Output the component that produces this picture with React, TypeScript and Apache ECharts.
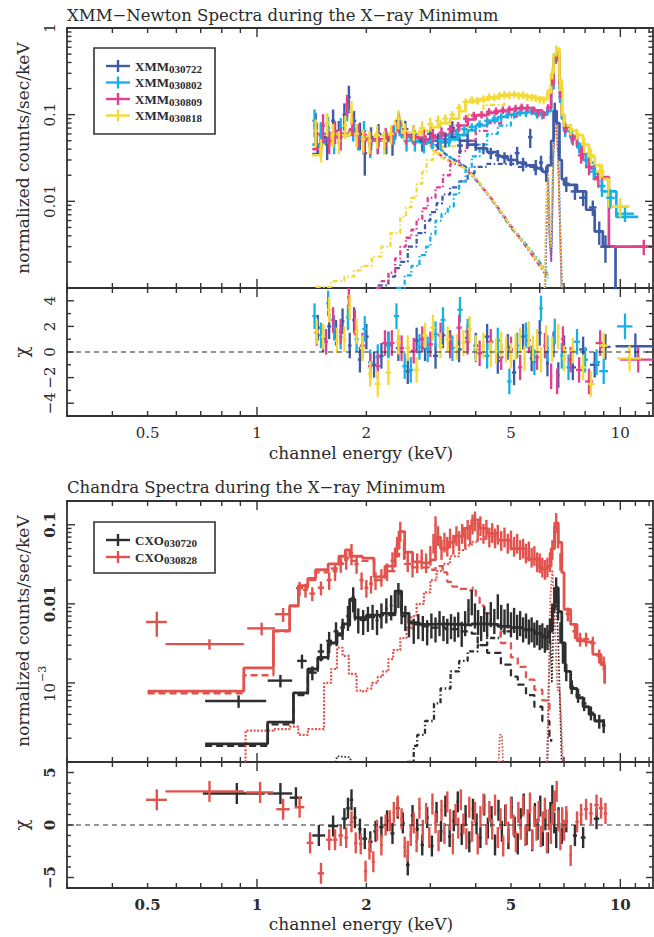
import { useEffect, useRef } from "react";
import * as echarts from "echarts";

// ---------- axis ranges ----------
const E_MIN = 0.3;
const E_MAX = 12.3;
const XMM_Y = [0.001, 1];
const CXO_Y = [0.0001, 0.2];
const XMM_CHI = [-5, 5];
const CXO_CHI = [-6, 6];

// ---------- tick values ----------
const X_MAJOR = [1, 10];
const X_MINOR = [0.3, 0.4, 0.5, 0.6, 0.7, 0.8, 0.9, 2, 3, 4, 5, 6, 7, 8, 9, 11, 12];
const X_LABELS = ["0.5", "1", "2", "5", "10"];
const X_LABEL_VALUES = [0.5, 1, 2, 5, 10];
const DECADE_STEPS = [2, 3, 4, 5, 6, 7, 8, 9];
const XMM_Y_MAJOR = [0.001, 0.01, 0.1, 1];
const CXO_Y_MAJOR = [0.0001, 0.001, 0.01, 0.1];
const XMM_Y_LABELS = ["0.01", "0.1", "1"];
const XMM_Y_LABEL_VALUES = [0.01, 0.1, 1];
const CXO_Y_LABELS = ["0.01", "0.1"];
const CXO_Y_LABEL_VALUES = [0.01, 0.1];
const XMM_CHI_MAJOR = [-4, -2, 0, 2, 4];
const XMM_CHI_MINOR = [-5, -3, -1, 1, 3, 5];
const XMM_CHI_LABELS = ["\u22124", "\u22122", "0", "2", "4"];
const CXO_CHI_MAJOR = [-5, 0, 5];
const CXO_CHI_MINOR = [-6, -4, -3, -2, -1, 1, 2, 3, 4, 6];
const CXO_CHI_LABELS = ["\u22125", "0", "5"];

// ---------- XMM-Newton spectra: [keV, counts/s/keV, half bin width keV, fractional error] ----------
const xmm030722Data = [
  [1.45, 0.075, 0.02, 0.4], [1.5, 0.058, 0.02, 0.4], [1.56, 0.046, 0.02, 0.35], [1.62, 0.085, 0.02, 0.35],
  [1.68, 0.065, 0.02, 0.3], [1.74, 0.1, 0.02, 0.35], [1.79, 0.16, 0.02, 0.35], [1.85, 0.085, 0.025, 0.3],
  [1.92, 0.06, 0.03, 0.35], [1.98, 0.036, 0.03, 0.45], [2.06, 0.055, 0.03, 0.3], [2.16, 0.06, 0.04, 0.3],
  [2.27, 0.05, 0.04, 0.3], [2.36, 0.048, 0.04, 0.3], [2.45, 0.085, 0.04, 0.25], [2.56, 0.068, 0.05, 0.25],
  [2.7, 0.06, 0.06, 0.25], [2.85, 0.05, 0.06, 0.25], [3.0, 0.06, 0.06, 0.22], [3.15, 0.05, 0.06, 0.22],
  [3.3, 0.052, 0.06, 0.2], [3.45, 0.07, 0.06, 0.2], [3.62, 0.044, 0.07, 0.2], [3.8, 0.05, 0.07, 0.18],
  [4.0, 0.045, 0.08, 0.15], [4.2, 0.041, 0.08, 0.15], [4.4, 0.036, 0.08, 0.15], [4.6, 0.034, 0.08, 0.15],
  [4.8, 0.032, 0.08, 0.15], [5.0, 0.03, 0.08, 0.15], [5.2, 0.036, 0.08, 0.18], [5.4, 0.027, 0.08, 0.18],
  [5.65, 0.055, 0.08, 0.25], [5.85, 0.025, 0.08, 0.2], [6.05, 0.028, 0.08, 0.2], [6.25, 0.021, 0.06, 0.2],
  [6.45, 0.032, 0.06, 0.2], [6.6, 0.11, 0.05, 0.25], [6.78, 0.04, 0.06, 0.2], [7.1, 0.016, 0.15, 0.2],
  [7.5, 0.013, 0.2, 0.2], [7.9, 0.011, 0.2, 0.2], [8.4, 0.0085, 0.2, 0.2], [8.75, 0.0045, 0.25, 0.3],
  [9.1, 0.003, 0.3, 0.35],
];
const xmm030802Data = [
  [1.44, 0.085, 0.02, 0.35], [1.5, 0.06, 0.02, 0.35], [1.57, 0.07, 0.02, 0.35], [1.63, 0.05, 0.02, 0.3],
  [1.7, 0.07, 0.02, 0.3], [1.77, 0.12, 0.02, 0.3], [1.84, 0.07, 0.025, 0.3], [1.9, 0.055, 0.03, 0.3],
  [1.97, 0.065, 0.03, 0.3], [2.05, 0.045, 0.03, 0.3], [2.15, 0.05, 0.04, 0.3], [2.25, 0.05, 0.04, 0.3],
  [2.38, 0.06, 0.04, 0.25], [2.47, 0.075, 0.04, 0.25], [2.58, 0.05, 0.05, 0.25], [2.72, 0.048, 0.06, 0.22],
  [2.88, 0.046, 0.06, 0.22], [3.03, 0.05, 0.06, 0.2], [3.2, 0.05, 0.06, 0.2], [3.38, 0.052, 0.06, 0.18],
  [3.55, 0.06, 0.06, 0.15], [3.72, 0.068, 0.07, 0.12], [3.9, 0.072, 0.07, 0.1], [4.1, 0.078, 0.08, 0.1],
  [4.3, 0.085, 0.08, 0.1], [4.5, 0.09, 0.08, 0.1], [4.7, 0.094, 0.08, 0.1], [4.9, 0.1, 0.08, 0.1],
  [5.1, 0.1, 0.08, 0.1], [5.3, 0.106, 0.08, 0.1], [5.5, 0.104, 0.08, 0.1], [5.7, 0.11, 0.08, 0.1],
  [5.9, 0.1, 0.08, 0.1], [6.1, 0.098, 0.08, 0.1], [6.3, 0.11, 0.06, 0.1], [6.5, 0.25, 0.05, 0.15],
  [6.65, 0.45, 0.05, 0.15], [6.82, 0.16, 0.06, 0.15], [7.05, 0.065, 0.1, 0.15], [7.35, 0.055, 0.12, 0.15],
  [7.7, 0.042, 0.15, 0.15], [8.05, 0.03, 0.15, 0.2], [8.45, 0.022, 0.2, 0.2], [8.9, 0.015, 0.2, 0.25],
  [9.4, 0.011, 0.25, 0.25], [10.3, 0.0072, 0.6, 0.2],
];
const xmm030809Data = [
  [1.46, 0.06, 0.02, 0.35], [1.52, 0.075, 0.02, 0.35], [1.58, 0.05, 0.02, 0.3], [1.64, 0.065, 0.02, 0.3],
  [1.7, 0.055, 0.02, 0.3], [1.77, 0.13, 0.02, 0.3], [1.83, 0.08, 0.025, 0.3], [1.9, 0.06, 0.03, 0.3],
  [1.97, 0.05, 0.03, 0.3], [2.05, 0.048, 0.03, 0.3], [2.15, 0.05, 0.04, 0.3], [2.26, 0.056, 0.04, 0.25],
  [2.36, 0.06, 0.04, 0.25], [2.46, 0.08, 0.04, 0.25], [2.57, 0.058, 0.05, 0.22], [2.72, 0.055, 0.06, 0.2],
  [2.88, 0.056, 0.06, 0.2], [3.05, 0.058, 0.06, 0.18], [3.22, 0.062, 0.06, 0.15], [3.4, 0.068, 0.06, 0.12],
  [3.58, 0.075, 0.06, 0.1], [3.76, 0.09, 0.07, 0.1], [3.95, 0.098, 0.07, 0.1], [4.15, 0.1, 0.08, 0.1],
  [4.35, 0.108, 0.08, 0.1], [4.55, 0.11, 0.08, 0.1], [4.75, 0.113, 0.08, 0.1], [4.95, 0.115, 0.08, 0.1],
  [5.15, 0.118, 0.08, 0.1], [5.35, 0.122, 0.08, 0.1], [5.55, 0.12, 0.08, 0.1], [5.75, 0.112, 0.08, 0.1],
  [5.95, 0.105, 0.08, 0.1], [6.15, 0.1, 0.08, 0.1], [6.32, 0.12, 0.06, 0.1], [6.5, 0.26, 0.05, 0.15],
  [6.66, 0.47, 0.05, 0.15], [6.82, 0.18, 0.06, 0.15], [7.05, 0.07, 0.1, 0.15], [7.4, 0.052, 0.12, 0.15],
  [7.8, 0.034, 0.15, 0.2], [8.2, 0.025, 0.2, 0.2], [8.7, 0.018, 0.25, 0.2], [11.6, 0.003, 0.9, 0.2],
];
const xmm030818Data = [
  [1.45, 0.065, 0.02, 0.35], [1.5, 0.04, 0.02, 0.3], [1.56, 0.08, 0.02, 0.3], [1.62, 0.06, 0.02, 0.3],
  [1.68, 0.05, 0.02, 0.3], [1.75, 0.075, 0.02, 0.3], [1.82, 0.11, 0.025, 0.3], [1.88, 0.06, 0.03, 0.3],
  [1.96, 0.052, 0.03, 0.3], [2.04, 0.05, 0.03, 0.3], [2.14, 0.058, 0.04, 0.3], [2.24, 0.05, 0.04, 0.3],
  [2.34, 0.06, 0.04, 0.25], [2.45, 0.09, 0.04, 0.25], [2.55, 0.065, 0.05, 0.22], [2.7, 0.062, 0.06, 0.2],
  [2.85, 0.07, 0.06, 0.2], [3.0, 0.078, 0.06, 0.18], [3.15, 0.085, 0.06, 0.15], [3.3, 0.09, 0.06, 0.12],
  [3.45, 0.1, 0.06, 0.1], [3.6, 0.12, 0.06, 0.1], [3.75, 0.14, 0.07, 0.1], [3.9, 0.148, 0.07, 0.1],
  [4.05, 0.145, 0.08, 0.1], [4.2, 0.152, 0.08, 0.1], [4.35, 0.16, 0.08, 0.1], [4.5, 0.158, 0.08, 0.1],
  [4.65, 0.165, 0.08, 0.1], [4.8, 0.17, 0.08, 0.1], [4.95, 0.168, 0.08, 0.1], [5.1, 0.172, 0.08, 0.1],
  [5.25, 0.165, 0.08, 0.1], [5.4, 0.168, 0.08, 0.1], [5.55, 0.16, 0.08, 0.1], [5.7, 0.158, 0.08, 0.1],
  [5.85, 0.155, 0.08, 0.1], [6.0, 0.15, 0.08, 0.1], [6.15, 0.148, 0.06, 0.1], [6.32, 0.18, 0.05, 0.1],
  [6.5, 0.3, 0.05, 0.15], [6.66, 0.55, 0.05, 0.15], [6.82, 0.22, 0.06, 0.15], [7.0, 0.085, 0.08, 0.15],
  [7.3, 0.068, 0.12, 0.15], [7.6, 0.06, 0.12, 0.15], [7.95, 0.045, 0.15, 0.2], [8.3, 0.034, 0.2, 0.2],
  [8.8, 0.022, 0.25, 0.2], [10.0, 0.0087, 0.55, 0.25],
];

// folded models (histogram, left bin edges) [keV, counts/s/keV]
const xmm030722Model = [
  [1.42, 0.035], [1.47, 0.045], [1.53, 0.055], [1.6, 0.06], [1.7, 0.058], [1.8, 0.065], [1.88, 0.056],
  [2.0, 0.052], [2.15, 0.05], [2.3, 0.055], [2.4, 0.075], [2.5, 0.06], [2.65, 0.055], [2.8, 0.052],
  [3.0, 0.055], [3.2, 0.058], [3.4, 0.055], [3.6, 0.05], [3.8, 0.045], [4.0, 0.041], [4.3, 0.037],
  [4.6, 0.033], [4.9, 0.03], [5.2, 0.028], [5.5, 0.026], [5.8, 0.024], [6.1, 0.022], [6.3, 0.026],
  [6.45, 0.05], [6.55, 0.11], [6.68, 0.08], [6.8, 0.03], [6.9, 0.018], [7.0, 0.0155], [7.6, 0.013],
  [8.05, 0.008], [8.5, 0.0045], [8.95, 0.003], [9.7, 0.0005],
];
const xmm030802Model = [
  [1.42, 0.045], [1.5, 0.06], [1.6, 0.055], [1.7, 0.06], [1.8, 0.062], [1.9, 0.055], [2.0, 0.05],
  [2.15, 0.05], [2.3, 0.052], [2.4, 0.07], [2.5, 0.055], [2.65, 0.05], [2.8, 0.048], [3.0, 0.05],
  [3.2, 0.048], [3.4, 0.052], [3.6, 0.058], [3.8, 0.066], [4.0, 0.075], [4.3, 0.085], [4.6, 0.094],
  [4.9, 0.1], [5.2, 0.105], [5.5, 0.107], [5.8, 0.103], [6.1, 0.1], [6.3, 0.11], [6.45, 0.2],
  [6.55, 0.42], [6.68, 0.48], [6.8, 0.2], [6.9, 0.09], [7.0, 0.065], [7.3, 0.055], [7.6, 0.045],
  [7.9, 0.035], [8.2, 0.028], [8.5, 0.021], [8.9, 0.013], [9.75, 0.0066], [11.2, 0.0066],
];
const xmm030809Model = [
  [1.42, 0.04], [1.5, 0.05], [1.6, 0.055], [1.7, 0.06], [1.8, 0.068], [1.9, 0.058], [2.0, 0.052],
  [2.15, 0.052], [2.3, 0.055], [2.4, 0.075], [2.5, 0.06], [2.65, 0.055], [2.8, 0.052], [3.0, 0.055],
  [3.2, 0.058], [3.4, 0.065], [3.6, 0.075], [3.8, 0.088], [4.0, 0.098], [4.3, 0.105], [4.6, 0.11],
  [4.9, 0.115], [5.2, 0.118], [5.5, 0.12], [5.8, 0.112], [6.1, 0.105], [6.3, 0.12], [6.45, 0.22],
  [6.55, 0.45], [6.68, 0.5], [6.8, 0.22], [6.9, 0.1], [7.0, 0.07], [7.3, 0.056], [7.6, 0.043],
  [7.9, 0.03], [8.2, 0.024], [8.5, 0.019], [9.3, 0.003], [12.3, 0.003],
];
const xmm030818Model = [
  [1.42, 0.034], [1.5, 0.045], [1.6, 0.06], [1.7, 0.058], [1.8, 0.062], [1.9, 0.056], [2.0, 0.056],
  [2.15, 0.058], [2.3, 0.06], [2.4, 0.085], [2.5, 0.062], [2.65, 0.06], [2.8, 0.065], [3.0, 0.072],
  [3.2, 0.08], [3.4, 0.09], [3.6, 0.11], [3.75, 0.14], [4.0, 0.148], [4.3, 0.155], [4.6, 0.165],
  [4.9, 0.17], [5.2, 0.168], [5.5, 0.162], [5.8, 0.155], [6.1, 0.15], [6.3, 0.18], [6.45, 0.3],
  [6.55, 0.5], [6.68, 0.58], [6.8, 0.25], [6.9, 0.1], [7.0, 0.075], [7.3, 0.065], [7.6, 0.058],
  [7.9, 0.045], [8.2, 0.033], [8.5, 0.026], [8.9, 0.018], [9.3, 0.0087], [10.6, 0.0087],
];

// hard (absorbed) component
const xmm030722Hard = [
  [2.15, 0.00107], [2.3, 0.00135], [2.4, 0.0017], [2.48, 0.002], [2.6, 0.003], [2.75, 0.0043],
  [2.9, 0.006], [3.0, 0.0075], [3.12, 0.0095], [3.24, 0.012], [3.4, 0.0145], [3.6, 0.017],
  [3.8, 0.021], [3.97, 0.025], [4.3, 0.027], [4.7, 0.027], [5.2, 0.025], [5.8, 0.022],
];
const xmm030802Hard = [
  [2.42, 0.001], [2.55, 0.0014], [2.66, 0.0018], [2.8, 0.0024], [2.92, 0.003], [3.0, 0.0042],
  [3.1, 0.006], [3.22, 0.0072], [3.35, 0.0087], [3.48, 0.012], [3.6, 0.017], [3.75, 0.024],
  [3.9, 0.033], [4.1, 0.045], [4.3, 0.06], [4.6, 0.075], [5.0, 0.09],
];
const xmm030809Hard = [
  [2.12, 0.001], [2.2, 0.0012], [2.3, 0.0015], [2.4, 0.0022], [2.48, 0.003], [2.57, 0.0038],
  [2.66, 0.0047], [2.75, 0.0062], [2.85, 0.0083], [2.95, 0.011], [3.1, 0.0145], [3.25, 0.02],
  [3.4, 0.027], [3.6, 0.038], [3.78, 0.05], [4.0, 0.065], [4.3, 0.08], [4.7, 0.095], [5.2, 0.105],
];
const xmm030818Hard = [
  [1.45, 0.00103], [1.6, 0.0012], [1.74, 0.00135], [1.85, 0.0016], [1.94, 0.0018], [2.07, 0.0023],
  [2.2, 0.003], [2.33, 0.0043], [2.48, 0.0066], [2.57, 0.0085], [2.66, 0.011], [2.75, 0.016],
  [2.85, 0.022], [2.93, 0.03], [3.05, 0.036], [3.24, 0.043], [3.5, 0.06], [3.8, 0.1], [4.2, 0.13],
  [4.8, 0.15],
];

// soft (thermal) component above 3 keV
const xmm030722Soft = [
  [2.9, 0.052], [3.1, 0.045], [3.3, 0.035], [3.5, 0.03], [3.75, 0.025], [4.0, 0.0186], [4.5, 0.0095],
  [5.0, 0.005], [5.5, 0.0031], [6.0, 0.0019], [6.33, 0.0014],
];
const xmm030802Soft = [
  [3.0, 0.048], [3.2, 0.04], [3.4, 0.032], [3.6, 0.028], [3.9, 0.02], [4.4, 0.011], [5.0, 0.0051],
  [5.5, 0.0032], [6.0, 0.002], [6.33, 0.0014],
];
const xmm030809Soft = [
  [2.8, 0.05], [3.0, 0.045], [3.2, 0.034], [3.4, 0.029], [3.7, 0.025], [4.0, 0.018], [4.5, 0.0098],
  [5.0, 0.0052], [5.5, 0.003], [6.0, 0.0018], [6.33, 0.0013],
];
const xmm030818Soft = [
  [2.7, 0.055], [2.9, 0.05], [3.1, 0.036], [3.3, 0.03], [3.6, 0.027], [4.0, 0.0185], [4.5, 0.0097],
  [5.0, 0.0052], [5.5, 0.0031], [6.0, 0.0019], [6.33, 0.0014],
];

// iron line components
const xmm030722Fe = [
  [6.2, 0.001], [6.27, 0.006], [6.32, 0.018], [6.38, 0.004], [6.46, 0.002], [6.53, 0.03], [6.6, 0.09],
  [6.66, 0.1], [6.73, 0.05], [6.8, 0.01], [6.88, 0.001],
];
const xmm030802Fe = [
  [6.22, 0.001], [6.28, 0.007], [6.34, 0.02], [6.4, 0.005], [6.48, 0.003], [6.55, 0.04], [6.62, 0.08],
  [6.68, 0.085], [6.75, 0.035], [6.83, 0.006], [6.92, 0.001],
];
const xmm030809Fe = [
  [6.2, 0.001], [6.26, 0.008], [6.31, 0.022], [6.37, 0.005], [6.45, 0.002], [6.54, 0.035], [6.61, 0.075],
  [6.67, 0.08], [6.74, 0.03], [6.82, 0.005], [6.9, 0.001],
];
const xmm030818Fe = [
  [6.18, 0.001], [6.25, 0.01], [6.3, 0.025], [6.36, 0.006], [6.44, 0.003], [6.52, 0.04], [6.6, 0.085],
  [6.66, 0.09], [6.72, 0.04], [6.8, 0.008], [6.9, 0.001],
];

// residuals [keV, chi, half bin width keV]
const xmm030722Chi = [
  [1.47, 1.9, 0.02], [1.52, 1.0, 0.02], [1.58, 2.0, 0.02], [1.65, 1.5, 0.02], [1.72, 2.4, 0.02],
  [1.8, 0.5, 0.02], [1.85, 2.5, 0.02], [1.92, -0.6, 0.025], [2.0, 1.2, 0.03], [2.1, -1.0, 0.03],
  [2.2, -0.3, 0.03], [2.3, 0.6, 0.04], [2.45, 0.3, 0.04], [2.6, -1.5, 0.04], [2.75, 0.9, 0.05],
  [2.9, 0.3, 0.05], [3.1, -0.3, 0.05], [3.25, 1.3, 0.05], [3.4, 0.7, 0.05], [3.6, 0.2, 0.06],
  [3.8, 1.1, 0.06], [4.0, 0.5, 0.06], [4.3, 1.2, 0.07], [4.6, -0.7, 0.07], [4.9, 0.4, 0.07],
  [5.1, -1.6, 0.07], [5.4, 1.2, 0.07], [5.7, -0.5, 0.07], [6.0, 1.5, 0.07], [6.3, -0.9, 0.06],
  [6.55, 0.6, 0.05], [6.75, -1.8, 0.05], [7.0, 0.3, 0.1], [7.4, -1.2, 0.15], [7.9, 0.2, 0.2],
  [8.5, -1.0, 0.25], [9.1, 0.4, 0.3], [11.0, 0.45, 1.3],
];
const xmm030802Chi = [
  [1.44, 2.8, 0.02], [1.5, 1.3, 0.02], [1.57, 3.8, 0.02], [1.63, 1.9, 0.02], [1.7, 1.2, 0.02],
  [1.78, 2.7, 0.02], [1.88, 1.0, 0.025], [1.98, 1.8, 0.03], [2.05, -0.8, 0.03], [2.15, -0.4, 0.03],
  [2.3, 0.5, 0.04], [2.42, 2.8, 0.04], [2.55, -1.1, 0.04], [2.65, -1.4, 0.04], [2.8, 0.4, 0.05],
  [2.95, 0.2, 0.05], [3.1, 1.4, 0.05], [3.25, 2.5, 0.05], [3.45, 0.3, 0.05], [3.62, 3.3, 0.06],
  [3.8, 1.6, 0.06], [4.0, 0.2, 0.06], [4.3, -0.3, 0.07], [4.6, 0.9, 0.07], [4.95, -2.3, 0.07],
  [5.2, 0.5, 0.07], [5.5, 1.3, 0.07], [5.8, -0.8, 0.07], [6.05, 3.4, 0.07], [6.3, 0.3, 0.06],
  [6.6, 1.6, 0.05], [6.9, -0.3, 0.06], [7.2, -1.2, 0.1], [7.6, 0.8, 0.15], [8.0, -0.6, 0.15],
  [8.6, -0.8, 0.2], [9.0, -1.5, 0.25], [10.3, 2.0, 0.5],
];
const xmm030809Chi = [
  [1.46, 1.5, 0.02], [1.55, 0.8, 0.02], [1.62, 2.5, 0.02], [1.7, 1.6, 0.02], [1.79, 4.3, 0.02],
  [1.86, 2.3, 0.025], [1.95, 0.5, 0.03], [2.05, -1.1, 0.03], [2.15, -1.1, 0.03], [2.25, 0.7, 0.04],
  [2.35, 0.7, 0.04], [2.5, 0.3, 0.04], [2.7, 0.1, 0.05], [2.85, 1.0, 0.05], [3.0, 0.6, 0.05],
  [3.2, 1.3, 0.05], [3.4, 0.5, 0.05], [3.6, 1.9, 0.06], [3.8, 0.8, 0.06], [4.1, -0.1, 0.06],
  [4.4, 0.8, 0.07], [4.7, -0.4, 0.07], [5.0, 0.2, 0.07], [5.3, -1.2, 0.07], [5.6, 0.9, 0.07],
  [5.9, -0.4, 0.07], [6.2, 0.5, 0.06], [6.45, -1.9, 0.05], [6.7, -2.3, 0.05], [6.95, 1.0, 0.08],
  [7.3, -0.6, 0.12], [7.7, -1.4, 0.15], [8.2, -2.3, 0.2], [8.8, 0.7, 0.25], [11.2, -0.6, 1.2],
];
const xmm030818Chi = [
  [1.46, 1.6, 0.02], [1.52, 1.2, 0.02], [1.58, 3.3, 0.02], [1.66, 0.9, 0.02], [1.74, 1.0, 0.02],
  [1.8, 3.5, 0.02], [1.88, 1.6, 0.025], [1.95, 0.3, 0.03], [2.05, -1.7, 0.03], [2.15, -2.5, 0.04],
  [2.3, -1.6, 0.04], [2.45, 0.8, 0.04], [2.6, 0.3, 0.04], [2.75, -1.4, 0.05], [2.9, 1.3, 0.05],
  [3.05, 1.9, 0.05], [3.2, 0.5, 0.05], [3.35, 1.0, 0.05], [3.55, 0.4, 0.05], [3.7, 0.7, 0.05],
  [3.85, 1.8, 0.05], [4.0, 0.3, 0.05], [4.2, 0.5, 0.05], [4.4, -0.2, 0.05], [4.55, 0.1, 0.05],
  [4.7, 0.6, 0.05], [4.85, 0.2, 0.05], [5.0, -0.3, 0.05], [5.15, 0.4, 0.05], [5.3, 0.9, 0.05],
  [5.45, -0.5, 0.05], [5.6, 1.4, 0.05], [5.75, 0.3, 0.05], [5.9, 0.8, 0.05], [6.05, -0.6, 0.05],
  [6.25, 1.1, 0.05], [6.5, 0.2, 0.05], [6.75, 1.2, 0.05], [7.0, -0.5, 0.08], [7.4, 0.1, 0.12],
  [7.9, -1.2, 0.15], [8.3, -2.5, 0.2], [9.0, 0.5, 0.25], [10.6, -0.5, 0.8],
];

// ---------- Chandra spectra ----------
const cxo030720Data = [
  [0.89, 0.00059, 0.17, 0.18], [1.16, 0.00107, 0.09, 0.18], [1.33, 0.0019, 0.04, 0.2], [1.42, 0.00135, 0.04, 0.2],
  [1.5, 0.0025, 0.03, 0.25], [1.58, 0.0034, 0.03, 0.3], [1.65, 0.0045, 0.025, 0.3], [1.72, 0.005, 0.025, 0.3],
  [1.78, 0.007, 0.02, 0.35], [1.84, 0.012, 0.02, 0.35], [1.9, 0.0065, 0.02, 0.35], [1.96, 0.0062, 0.02, 0.35],
  [2.02, 0.0068, 0.02, 0.35], [2.08, 0.0072, 0.02, 0.35], [2.14, 0.0062, 0.02, 0.35], [2.2, 0.0075, 0.02, 0.35],
  [2.27, 0.0087, 0.02, 0.35], [2.34, 0.0095, 0.02, 0.35], [2.4, 0.011, 0.02, 0.35], [2.45, 0.0136, 0.02, 0.35],
  [2.5, 0.0085, 0.02, 0.35], [2.56, 0.007, 0.02, 0.35], [2.62, 0.0058, 0.02, 0.35], [2.7, 0.0048, 0.02, 0.35],
  [2.78, 0.0055, 0.02, 0.35], [2.86, 0.0052, 0.02, 0.35], [2.94, 0.0046, 0.02, 0.35], [3.02, 0.0056, 0.02, 0.35],
  [3.1, 0.005, 0.02, 0.35], [3.18, 0.006, 0.02, 0.35], [3.26, 0.0052, 0.02, 0.35], [3.34, 0.0048, 0.02, 0.35],
  [3.42, 0.0055, 0.02, 0.35], [3.5, 0.0051, 0.02, 0.35], [3.58, 0.0058, 0.02, 0.35], [3.66, 0.0044, 0.02, 0.35],
  [3.74, 0.006, 0.02, 0.35], [3.82, 0.0085, 0.02, 0.35], [3.9, 0.011, 0.02, 0.35], [3.98, 0.0075, 0.02, 0.35],
  [4.06, 0.0062, 0.02, 0.35], [4.14, 0.0052, 0.02, 0.35], [4.22, 0.0068, 0.02, 0.35], [4.3, 0.0058, 0.02, 0.35],
  [4.4, 0.0078, 0.02, 0.35], [4.5, 0.0064, 0.02, 0.35], [4.6, 0.0098, 0.02, 0.35], [4.7, 0.0072, 0.02, 0.35],
  [4.8, 0.0063, 0.02, 0.35], [4.9, 0.0075, 0.02, 0.35], [5.0, 0.0058, 0.02, 0.35], [5.1, 0.0066, 0.02, 0.35],
  [5.2, 0.0054, 0.02, 0.35], [5.3, 0.006, 0.02, 0.35], [5.4, 0.005, 0.02, 0.35], [5.5, 0.0056, 0.02, 0.35],
  [5.6, 0.0047, 0.02, 0.35], [5.7, 0.005, 0.02, 0.35], [5.8, 0.0043, 0.02, 0.35], [5.9, 0.0046, 0.02, 0.35],
  [6.0, 0.004, 0.02, 0.35], [6.1, 0.0042, 0.02, 0.35], [6.2, 0.0037, 0.02, 0.35], [6.3, 0.004, 0.02, 0.35],
  [6.4, 0.0048, 0.02, 0.35], [6.5, 0.0075, 0.02, 0.35], [6.58, 0.012, 0.02, 0.35], [6.66, 0.016, 0.02, 0.35],
  [6.74, 0.0095, 0.02, 0.35], [6.84, 0.0045, 0.03, 0.3], [6.95, 0.0025, 0.03, 0.3], [7.1, 0.0014, 0.05, 0.25],
  [7.35, 0.0009, 0.1, 0.2], [7.65, 0.0007, 0.12, 0.2], [7.95, 0.00055, 0.12, 0.2], [8.3, 0.00042, 0.15, 0.2],
  [8.75, 0.00033, 0.15, 0.2], [9.0, 0.00029, 0.1, 0.2],
];
const cxo030828Data = [
  [0.53, 0.0059, 0.035, 0.35], [0.74, 0.0031, 0.18, 0.15], [1.03, 0.0049, 0.09, 0.18], [1.18, 0.0074, 0.06, 0.2],
  [1.31, 0.0158, 0.03, 0.2], [1.36, 0.015, 0.02, 0.2], [1.42, 0.0135, 0.025, 0.2], [1.5, 0.016, 0.03, 0.2],
  [1.58, 0.02, 0.025, 0.25], [1.64, 0.026, 0.025, 0.25], [1.7, 0.033, 0.025, 0.25], [1.76, 0.036, 0.02, 0.25],
  [1.82, 0.044, 0.02, 0.3], [1.88, 0.032, 0.025, 0.25], [1.94, 0.02, 0.025, 0.25], [2.0, 0.016, 0.025, 0.25],
  [2.06, 0.018, 0.025, 0.25], [2.12, 0.02, 0.025, 0.25], [2.2, 0.022, 0.03, 0.25], [2.28, 0.026, 0.03, 0.25],
  [2.36, 0.035, 0.03, 0.28], [2.43, 0.055, 0.02, 0.28], [2.48, 0.085, 0.02, 0.28], [2.54, 0.05, 0.02, 0.28],
  [2.6, 0.035, 0.02, 0.28], [2.68, 0.03, 0.02, 0.28], [2.76, 0.034, 0.02, 0.28], [2.84, 0.038, 0.02, 0.28],
  [2.92, 0.034, 0.02, 0.28], [3.0, 0.042, 0.02, 0.28], [3.06, 0.06, 0.02, 0.28], [3.1, 0.1, 0.02, 0.28],
  [3.15, 0.075, 0.02, 0.28], [3.22, 0.05, 0.02, 0.28], [3.28, 0.062, 0.02, 0.28], [3.34, 0.055, 0.02, 0.28],
  [3.4, 0.07, 0.02, 0.28], [3.47, 0.058, 0.02, 0.28], [3.54, 0.075, 0.02, 0.28], [3.6, 0.065, 0.02, 0.28],
  [3.67, 0.08, 0.02, 0.28], [3.74, 0.07, 0.02, 0.28], [3.8, 0.09, 0.02, 0.28], [3.86, 0.078, 0.02, 0.28],
  [3.92, 0.105, 0.02, 0.28], [3.98, 0.115, 0.02, 0.28], [4.05, 0.085, 0.02, 0.28], [4.12, 0.1, 0.02, 0.28],
  [4.2, 0.08, 0.02, 0.28], [4.28, 0.09, 0.02, 0.28], [4.36, 0.072, 0.02, 0.28], [4.44, 0.082, 0.02, 0.28],
  [4.52, 0.07, 0.02, 0.28], [4.6, 0.078, 0.02, 0.28], [4.7, 0.065, 0.02, 0.28], [4.8, 0.072, 0.02, 0.28],
  [4.9, 0.06, 0.02, 0.28], [5.0, 0.066, 0.02, 0.28], [5.1, 0.055, 0.02, 0.28], [5.2, 0.06, 0.02, 0.28],
  [5.3, 0.05, 0.02, 0.28], [5.4, 0.052, 0.02, 0.28], [5.5, 0.045, 0.02, 0.28], [5.6, 0.048, 0.02, 0.28],
  [5.7, 0.04, 0.02, 0.28], [5.8, 0.042, 0.02, 0.28], [5.9, 0.035, 0.02, 0.28], [6.0, 0.034, 0.02, 0.28],
  [6.1, 0.03, 0.02, 0.28], [6.2, 0.028, 0.02, 0.28], [6.3, 0.03, 0.02, 0.28], [6.4, 0.035, 0.02, 0.28],
  [6.5, 0.05, 0.02, 0.28], [6.58, 0.075, 0.02, 0.28], [6.66, 0.11, 0.02, 0.28], [6.74, 0.07, 0.02, 0.28],
  [6.84, 0.035, 0.03, 0.25], [7.17, 0.0075, 0.1, 0.2], [7.5, 0.0045, 0.12, 0.2], [7.75, 0.0036, 0.12, 0.2],
  [8.05, 0.0036, 0.15, 0.2], [8.4, 0.0032, 0.15, 0.2], [8.75, 0.0022, 0.15, 0.2], [9.0, 0.0018, 0.1, 0.2],
];
const cxo030720Model = [
  [0.72, 0.00017], [1.07, 0.00032], [1.26, 0.00075], [1.38, 0.0015], [1.47, 0.0021], [1.57, 0.0032],
  [1.66, 0.0042], [1.72, 0.0056], [1.8, 0.0115], [1.86, 0.0067], [2.0, 0.0072], [2.2, 0.0076],
  [2.4, 0.0145], [2.5, 0.0076], [2.62, 0.0058], [2.8, 0.0055], [3.0, 0.0056], [3.3, 0.0055],
  [3.6, 0.0054], [3.9, 0.0056], [4.2, 0.0055], [4.6, 0.0052], [5.0, 0.005], [5.4, 0.0047],
  [5.8, 0.0042], [6.1, 0.0038], [6.35, 0.0045], [6.5, 0.009], [6.62, 0.016], [6.75, 0.008],
  [6.9, 0.0032], [7.05, 0.0014], [7.3, 0.00085], [7.6, 0.00065], [7.9, 0.0005], [8.2, 0.0004],
  [8.5, 0.00033], [9.0, 0.00028], [9.05, 0.00028],
];
const cxo030828Model = [
  [0.5, 0.00079], [0.92, 0.00155], [1.11, 0.0046], [1.23, 0.0095], [1.3, 0.017], [1.38, 0.021],
  [1.45, 0.027], [1.57, 0.032], [1.68, 0.04], [1.75, 0.048], [1.8, 0.04], [1.95, 0.038], [2.1, 0.022],
  [2.25, 0.03], [2.4, 0.05], [2.46, 0.082], [2.55, 0.045], [2.68, 0.034], [2.85, 0.033], [3.0, 0.036],
  [3.1, 0.07], [3.2, 0.05], [3.35, 0.06], [3.5, 0.072], [3.7, 0.09], [3.9, 0.115], [4.1, 0.09],
  [4.3, 0.078], [4.6, 0.064], [5.0, 0.05], [5.5, 0.037], [6.0, 0.028], [6.3, 0.03], [6.45, 0.05],
  [6.6, 0.106], [6.75, 0.06], [6.9, 0.025], [7.0, 0.0085], [7.3, 0.0055], [7.6, 0.0034], [8.0, 0.0033],
  [8.4, 0.0023], [8.85, 0.0017], [9.05, 0.001], [9.1, 0.001],
];
const cxo030720Soft = [
  [0.72, 0.00016], [1.07, 0.0003], [1.26, 0.0007], [1.38, 0.0014], [1.47, 0.002], [1.57, 0.003],
  [1.66, 0.004], [1.72, 0.0053], [1.8, 0.011], [1.86, 0.0063], [2.0, 0.0068], [2.2, 0.0072],
  [2.4, 0.0135], [2.5, 0.007], [2.62, 0.0055], [2.8, 0.0052], [3.0, 0.005], [3.3, 0.0048],
  [3.6, 0.0045], [3.9, 0.0042], [4.05, 0.003], [4.3, 0.0024], [4.69, 0.0017], [5.0, 0.0012],
  [5.22, 0.00095], [5.5, 0.0007], [5.8, 0.0005], [6.1, 0.00033], [6.38, 0.0002], [6.45, 0.00018],
];
const cxo030720Hard = [
  [2.59, 0.0001], [2.7, 0.00016], [2.76, 0.00022], [2.9, 0.00033], [3.07, 0.00055], [3.2, 0.00085],
  [3.41, 0.0014], [3.6, 0.0019], [3.8, 0.0025], [4.05, 0.003], [4.3, 0.0037], [4.69, 0.0045],
  [5.1, 0.005], [5.5, 0.0048],
];
const cxo030828Soft = [
  [0.5, 0.00074], [0.92, 0.00125], [1.11, 0.0045], [1.23, 0.0093], [1.3, 0.016], [1.38, 0.02],
  [1.45, 0.025], [1.57, 0.028], [1.68, 0.032], [1.75, 0.038], [1.8, 0.035], [1.95, 0.035], [2.1, 0.02],
  [2.25, 0.026], [2.4, 0.04], [2.46, 0.06], [2.55, 0.032], [2.68, 0.029], [2.85, 0.029], [3.0, 0.027],
  [3.1, 0.03], [3.24, 0.025], [3.34, 0.019], [3.45, 0.0165], [3.6, 0.0155], [3.8, 0.0148], [3.92, 0.016],
  [4.0, 0.012], [4.1, 0.0095], [4.22, 0.0076], [4.4, 0.0055], [4.69, 0.0032], [5.0, 0.0021],
  [5.22, 0.0016], [5.5, 0.0011], [5.8, 0.00082], [6.1, 0.0006], [6.38, 0.0004],
];
const cxo030828Hard = [
  [0.93, 0.00009], [0.93, 0.00025], [1.11, 0.00026], [1.23, 0.00028], [1.3, 0.00022], [1.38, 0.00026],
  [1.52, 0.00026], [1.53, 0.001], [1.6, 0.0015], [1.66, 0.0028], [1.72, 0.0022], [1.79, 0.0013],
  [1.88, 0.0008], [1.94, 0.00078], [2.0, 0.00085], [2.07, 0.001], [2.15, 0.0012], [2.22, 0.0014],
  [2.3, 0.002], [2.37, 0.0026], [2.48, 0.0037], [2.58, 0.005], [2.66, 0.007], [2.75, 0.01],
  [2.88, 0.014], [3.0, 0.02], [3.12, 0.026], [3.25, 0.032], [3.4, 0.04], [3.6, 0.048], [3.75, 0.055],
  [3.9, 0.061], [4.05, 0.066], [4.25, 0.071], [4.5, 0.068],
];
const cxo030720Fe = [
  [6.3, 0.00009], [6.36, 0.0012], [6.42, 0.0035], [6.48, 0.001], [6.55, 0.006], [6.62, 0.012],
  [6.68, 0.01], [6.75, 0.003], [6.82, 0.0006], [6.9, 0.00009],
];
const cxo030720Bump = [[1.64, 0.00009], [1.66, 0.000118], [1.8, 0.000115], [1.83, 0.00009]];
const cxo030828Fe = [
  [6.28, 0.00009], [6.35, 0.001], [6.42, 0.012], [6.5, 0.027], [6.58, 0.01], [6.66, 0.002],
  [6.72, 0.0008], [6.8, 0.0009], [6.88, 0.0003], [6.95, 0.00009],
];
const cxo030828Bump = [[4.62, 0.00009], [4.66, 0.00022], [4.72, 0.00022], [4.76, 0.00009]];

const cxo030720Chi = [
  [0.88, 3.0, 0.17], [1.16, 3.0, 0.09], [1.28, 2.6, 0.05], [1.48, -1.0, 0.06], [1.62, -0.1, 0.05],
  [1.74, 0.6, 0.03], [1.78, 1.6, 0.02], [1.82, 2.4, 0.02], [1.86, 0.7, 0.02], [1.92, -0.4, 0.02],
  [1.98, -1.3, 0.03], [2.05, -1.6, 0.03], [2.12, -0.6, 0.03], [2.2, -0.2, 0.03], [2.28, 0.4, 0.03],
  [2.36, -0.8, 0.03], [2.44, 1.6, 0.03], [2.52, 0.2, 0.03], [2.6, -3.8, 0.03], [2.68, 0.9, 0.03],
  [2.76, -0.4, 0.03], [2.85, -1.9, 0.03], [2.94, 0.7, 0.03], [3.03, -2.0, 0.03], [3.12, 1.2, 0.03],
  [3.21, -0.6, 0.03], [3.3, 1.8, 0.03], [3.39, -1.1, 0.03], [3.48, 0.4, 0.03], [3.57, 2.2, 0.03],
  [3.66, -0.9, 0.03], [3.75, 0.9, 0.03], [3.84, -1.6, 0.03], [3.93, 1.5, 0.03], [4.02, 0.1, 0.03],
  [4.12, -1.2, 0.03], [4.22, 1.9, 0.03], [4.32, -0.3, 0.03], [4.42, 0.8, 0.03], [4.52, -1.9, 0.03],
  [4.62, 1.4, 0.03], [4.72, -0.6, 0.03], [4.82, 0.9, 0.03], [4.92, -1.3, 0.03], [5.02, 1.7, 0.03],
  [5.12, -0.2, 0.03], [5.22, -1.8, 0.03], [5.32, 0.6, 0.03], [5.42, 2.0, 0.03], [5.52, -0.9, 0.03],
  [5.62, 0.4, 0.03], [5.72, -1.5, 0.03], [5.82, 1.1, 0.03], [5.92, -0.4, 0.03], [6.02, 1.8, 0.03],
  [6.12, -1.0, 0.03], [6.22, 0.5, 0.03], [6.32, -1.7, 0.03], [6.42, 1.2, 0.03], [6.5, 2.8, 0.03],
  [6.58, 0.2, 0.03], [6.66, -1.2, 0.03], [6.76, 0.7, 0.04], [6.9, -0.8, 0.05], [7.1, 0.3, 0.06],
  [7.5, -1.0, 0.1], [7.9, -1.2, 0.12], [8.6, 0.6, 0.15],
];
const cxo030828Chi = [
  [0.53, 2.4, 0.035], [0.74, 3.2, 0.18], [1.02, 3.1, 0.09], [1.18, 1.5, 0.05], [1.31, 1.7, 0.04],
  [1.4, -1.7, 0.03], [1.5, -4.6, 0.03], [1.58, -1.4, 0.03], [1.64, -1.4, 0.025], [1.7, -1.0, 0.025],
  [1.76, -1.2, 0.02], [1.82, 0.3, 0.02], [1.87, -1.7, 0.02], [1.93, -1.8, 0.02], [1.99, -4.4, 0.02],
  [2.04, -2.3, 0.02], [2.09, -3.5, 0.02], [2.14, -0.5, 0.02], [2.2, -1.9, 0.02], [2.26, 0.0, 0.02],
  [2.32, 0.4, 0.02], [2.38, 1.2, 0.02], [2.44, 1.8, 0.02], [2.5, 0.6, 0.02], [2.55, -2.1, 0.02],
  [2.6, -2.5, 0.02], [2.65, -1.0, 0.02], [2.7, 0.2, 0.02], [2.75, -1.6, 0.02], [2.8, 1.6, 0.02],
  [2.86, -0.5, 0.02], [2.92, 1.1, 0.02], [2.98, -1.2, 0.02], [3.04, 2.0, 0.02], [3.1, 0.2, 0.02],
  [3.16, -1.5, 0.02], [3.22, 1.4, 0.02], [3.28, -0.8, 0.02], [3.34, 2.2, 0.02], [3.4, 0.5, 0.02],
  [3.46, -1.8, 0.02], [3.52, 1.0, 0.02], [3.58, -0.3, 0.02], [3.64, 2.4, 0.02], [3.7, 0.1, 0.02],
  [3.77, -1.3, 0.02], [3.84, 1.7, 0.02], [3.91, -0.6, 0.02], [3.98, 1.2, 0.02], [4.05, -1.8, 0.02],
  [4.12, 0.8, 0.02], [4.2, 2.0, 0.02], [4.28, -0.9, 0.02], [4.36, 1.3, 0.02], [4.44, -0.4, 0.02],
  [4.52, 1.9, 0.02], [4.6, -1.2, 0.02], [4.68, 0.6, 0.02], [4.76, -2.0, 0.02], [4.84, 1.0, 0.02],
  [4.92, -0.7, 0.02], [5.0, 1.6, 0.02], [5.08, 0.0, 0.02], [5.16, -1.6, 0.02], [5.24, 1.2, 0.02],
  [5.32, -0.4, 0.02], [5.4, 1.8, 0.02], [5.48, -1.0, 0.02], [5.56, 0.5, 0.02], [5.64, 2.1, 0.02],
  [5.72, -1.4, 0.02], [5.8, 0.8, 0.02], [5.88, -0.5, 0.02], [5.96, 1.3, 0.02], [6.04, -1.1, 0.02],
  [6.12, 0.3, 0.02], [6.2, 1.6, 0.02], [6.28, -1.7, 0.02], [6.36, 0.5, 0.02], [6.44, -0.8, 0.02],
  [6.52, 1.0, 0.02], [6.6, 2.3, 0.02], [6.68, 3.2, 0.02], [6.76, 0.4, 0.02], [6.84, -1.4, 0.02],
  [6.92, 0.7, 0.02], [7.0, -0.5, 0.02], [7.1, 0.8, 0.03], [7.3, -2.9, 0.06], [7.6, 0.3, 0.08],
  [7.8, 1.0, 0.08], [8.05, 1.5, 0.1], [8.3, 1.1, 0.1], [8.6, 1.9, 0.12], [8.85, 1.6, 0.12],
  [9.1, 1.1, 0.1],
];

// ---------- styling ----------
const FONT = '"DejaVu Serif", serif';
const LEGEND_FONT = '"Liberation Serif", serif';
const INK = "#2b2b2b";
const FRAME = "#333333";
const BLUE = "#3e5ba7";
const CYAN = "#19b0e6";
const MAGENTA = "#e2408d";
const YELLOW = "#f3da36";
const BLACK = "#2e2e2e";
const RED = "#e2534d";

const XMM_SETS = [
  { name: "XMM030722", color: BLUE, data: xmm030722Data, model: xmm030722Model, hard: xmm030722Hard, soft: xmm030722Soft, fe: xmm030722Fe, chi: xmm030722Chi },
  { name: "XMM030802", color: CYAN, data: xmm030802Data, model: xmm030802Model, hard: xmm030802Hard, soft: xmm030802Soft, fe: xmm030802Fe, chi: xmm030802Chi },
  { name: "XMM030809", color: MAGENTA, data: xmm030809Data, model: xmm030809Model, hard: xmm030809Hard, soft: xmm030809Soft, fe: xmm030809Fe, chi: xmm030809Chi },
  { name: "XMM030818", color: YELLOW, data: xmm030818Data, model: xmm030818Model, hard: xmm030818Hard, soft: xmm030818Soft, fe: xmm030818Fe, chi: xmm030818Chi },
];

type Pt = number[];

function lineSeries(gi: number, data: Pt[], color: string, width: number, dash: any, step: boolean, z: number) {
  return {
    type: "line",
    xAxisIndex: gi,
    yAxisIndex: gi,
    data,
    step: step ? "end" : false,
    symbol: "none",
    silent: true,
    clip: true,
    z,
    lineStyle: { color, width, type: dash },
  };
}

function specCrossSeries(gi: number, name: string, data: Pt[], color: string, width: number, z: number) {
  return {
    name,
    type: "custom",
    xAxisIndex: gi,
    yAxisIndex: gi,
    clip: true,
    silent: true,
    z,
    encode: { x: 0, y: 1 },
    data,
    renderItem: (_p: any, api: any) => {
      const e = api.value(0), v = api.value(1), hw = api.value(2), f = api.value(3);
      const a = api.coord([e - hw, v]);
      const b = api.coord([e + hw, v]);
      const lo = api.coord([e, v * (1 - f)]);
      const hi = api.coord([e, v * (1 + f)]);
      const st = { stroke: color, lineWidth: width };
      return {
        type: "group",
        children: [
          { type: "line", shape: { x1: a[0], y1: a[1], x2: b[0], y2: b[1] }, style: st },
          { type: "line", shape: { x1: lo[0], y1: lo[1], x2: hi[0], y2: hi[1] }, style: st },
        ],
      };
    },
  };
}

function chiCrossSeries(gi: number, data: Pt[], color: string, width: number, z: number) {
  return {
    type: "custom",
    xAxisIndex: gi,
    yAxisIndex: gi,
    clip: true,
    silent: true,
    z,
    encode: { x: 0, y: 1 },
    data,
    renderItem: (_p: any, api: any) => {
      const e = api.value(0), c = api.value(1), hw = api.value(2);
      const a = api.coord([e - hw, c]);
      const b = api.coord([e + hw, c]);
      const lo = api.coord([e, c - 1]);
      const hi = api.coord([e, c + 1]);
      const st = { stroke: color, lineWidth: width };
      return {
        type: "group",
        children: [
          { type: "line", shape: { x1: a[0], y1: a[1], x2: b[0], y2: b[1] }, style: st },
          { type: "line", shape: { x1: lo[0], y1: lo[1], x2: hi[0], y2: hi[1] }, style: st },
        ],
      };
    },
  };
}

type Tick = { ax: "x" | "y"; v: number; len: number };

// inward ticks on all four sides of a panel
function frameSeries(gi: number, ticks: Tick[], ref: number[]) {
  return {
    type: "custom",
    xAxisIndex: gi,
    yAxisIndex: gi,
    clip: false,
    silent: true,
    z: 30,
    encode: { x: 0, y: 1 },
    data: ticks.map(() => ref),
    renderItem: (params: any, api: any) => {
      const t = ticks[params.dataIndex];
      const cs = params.coordSys;
      const st = { stroke: FRAME, lineWidth: 1.4 };
      if (t.ax === "x") {
        const x = api.coord([t.v, ref[1]])[0];
        const yb = cs.y + cs.height;
        const yt = cs.y;
        return {
          type: "group",
          children: [
            { type: "line", shape: { x1: x, y1: yb, x2: x, y2: yb - t.len }, style: st },
            { type: "line", shape: { x1: x, y1: yt, x2: x, y2: yt + t.len }, style: st },
          ],
        };
      }
      const y = api.coord([ref[0], t.v])[1];
      const xl = cs.x;
      const xr = cs.x + cs.width;
      return {
        type: "group",
        children: [
          { type: "line", shape: { x1: xl, y1: y, x2: xl + t.len, y2: y }, style: st },
          { type: "line", shape: { x1: xr, y1: y, x2: xr - t.len, y2: y }, style: st },
        ],
      };
    },
  };
}

type Lbl = { ax: "x" | "y"; v: number; text: string; bold: boolean; sup?: string };

function labelSeries(gi: number, labels: Lbl[], ref: number[]) {
  return {
    type: "custom",
    xAxisIndex: gi,
    yAxisIndex: gi,
    clip: false,
    silent: true,
    z: 30,
    encode: { x: 0, y: 1 },
    data: labels.map(() => ref),
    renderItem: (params: any, api: any) => {
      const l = labels[params.dataIndex];
      const cs = params.coordSys;
      const base = {
        fontFamily: FONT,
        fontSize: 15,
        fontWeight: l.bold ? "bold" : "normal",
        fill: INK,
      };
      if (l.ax === "x") {
        const x = api.coord([l.v, ref[1]])[0];
        return {
          type: "text",
          x,
          y: cs.y + cs.height + 17,
          style: { ...base, text: l.text, align: "center", verticalAlign: "middle", textAlign: "center", textVerticalAlign: "middle" },
        };
      }
      const y = api.coord([ref[0], l.v])[1];
      if (l.sup) {
        return {
          type: "group",
          x: 50,
          y,
          rotation: Math.PI / 2,
          children: [
            { type: "text", x: 0, y: 0, style: { ...base, text: l.text, align: "right", verticalAlign: "middle", textAlign: "right", textVerticalAlign: "middle" } },
            { type: "text", x: 1, y: -8, style: { ...base, fontSize: 11, text: l.sup, align: "left", verticalAlign: "middle", textAlign: "left", textVerticalAlign: "middle" } },
          ],
        };
      }
      return {
        type: "text",
        x: 50,
        y,
        rotation: Math.PI / 2,
        style: { ...base, text: l.text, align: "center", verticalAlign: "middle", textAlign: "center", textVerticalAlign: "middle" },
      };
    },
  };
}

function xTicks(): Tick[] {
  return [
    ...X_MINOR.map((v) => ({ ax: "x" as const, v, len: 5 })),
    ...X_MAJOR.map((v) => ({ ax: "x" as const, v, len: 9 })),
  ];
}

function logYTicks(majors: number[], top: number): Tick[] {
  const out: Tick[] = majors.map((v) => ({ ax: "y" as const, v, len: 8 }));
  majors.forEach((m) => {
    DECADE_STEPS.forEach((s) => {
      const v = m * s;
      if (v <= top * 1.0001) out.push({ ax: "y", v, len: 4.5 });
    });
  });
  return out;
}

function xLabels(bold: boolean): Lbl[] {
  return X_LABEL_VALUES.map((v, i) => ({ ax: "x" as const, v, text: X_LABELS[i], bold }));
}

function text(x: number, y: number, s: string, size: number, opts: any = {}) {
  return {
    type: "text",
    x,
    y,
    rotation: opts.rotation || 0,
    silent: true,
    style: {
      text: s,
      fontFamily: opts.family || FONT,
      fontSize: size,
      fontWeight: opts.weight || "normal",
      fill: INK,
      align: opts.align || "center",
      verticalAlign: "middle",
      textAlign: opts.align || "center",
      textVerticalAlign: "middle",
    },
  };
}

function legendGraphics(x: number, y: number, h: number, rows: { name: string; color: string }[], rowY: number[]) {
  const out: any[] = [
    { type: "rect", shape: { x, y, width: 121, height: h }, style: { fill: "#fff", stroke: FRAME, lineWidth: 1.6 }, silent: true, z: 40 },
  ];
  rows.forEach((r, i) => {
    const cy = rowY[i];
    const prefix = r.name.slice(0, 3);
    const digits = r.name.slice(3);
    const prefixWidth = prefix === "XMM" ? 34 : 29;
    out.push(
      { type: "line", shape: { x1: x + 12, y1: cy, x2: x + 36, y2: cy }, style: { stroke: r.color, lineWidth: 2.4 }, silent: true, z: 41 },
      { type: "line", shape: { x1: x + 24, y1: cy - 6, x2: x + 24, y2: cy + 6 }, style: { stroke: r.color, lineWidth: 2.4 }, silent: true, z: 41 },
      { ...text(x + 41, cy, prefix, 13, { align: "left", family: LEGEND_FONT, weight: "bold" }), z: 41 },
      { ...text(x + 41 + prefixWidth, cy + 2.5, digits, 11, { align: "left", family: LEGEND_FONT, weight: "bold" }), z: 41 },
    );
  });
  return out;
}

function buildOption() {
  const grids = [
    { left: 67, top: 28, width: 586, height: 260 },
    { left: 67, top: 288, width: 586, height: 128 },
    { left: 67, top: 501, width: 586, height: 261 },
    { left: 67, top: 762, width: 586, height: 126 },
  ].map((g) => ({ ...g, show: true, borderColor: FRAME, borderWidth: 1.8, backgroundColor: "transparent", containLabel: false }));

  const hidden = { axisLine: { show: false }, axisTick: { show: false }, axisLabel: { show: false }, splitLine: { show: false } };
  const xAxis = [0, 1, 2, 3].map((i) => ({ type: "log", logBase: 10, min: E_MIN, max: E_MAX, gridIndex: i, ...hidden }));
  const yAxis = [
    { type: "log", logBase: 10, min: XMM_Y[0], max: XMM_Y[1], gridIndex: 0, ...hidden },
    { type: "value", min: XMM_CHI[0], max: XMM_CHI[1], gridIndex: 1, ...hidden },
    { type: "log", logBase: 10, min: CXO_Y[0], max: CXO_Y[1], gridIndex: 2, ...hidden },
    { type: "value", min: CXO_CHI[0], max: CXO_CHI[1], gridIndex: 3, ...hidden },
  ];

  const series: any[] = [];
  const DASHDOT = [5, 2.5, 1.5, 2.5];
  const LONGDASH = [7, 4];
  const DOT = [1.6, 1.8];

  // XMM-Newton spectra
  XMM_SETS.forEach((s, i) => {
    series.push(lineSeries(0, s.hard, s.color, 2.3, DASHDOT, true, 2 + i * 0.01));
    series.push(lineSeries(0, s.soft, s.color, 2.3, DASHDOT, false, 2 + i * 0.01));
    series.push(lineSeries(0, s.fe, s.color, 1.8, DOT, false, 2 + i * 0.01));
  });
  XMM_SETS.forEach((s, i) => {
    series.push(lineSeries(0, s.model, s.color, 2.7, "solid", true, 3 + i * 0.01));
    series.push(specCrossSeries(0, s.name, s.data, s.color, 2.4, 4 + i * 0.01));
  });

  // XMM residuals
  series.push(lineSeries(1, [[E_MIN, 0], [E_MAX, 0]], INK, 1.2, [5, 4], false, 6));
  XMM_SETS.forEach((s, i) => {
    series.push(chiCrossSeries(1, s.chi, s.color, 2.3, 4 + i * 0.01));
  });

  // Chandra spectra
  series.push(lineSeries(2, cxo030720Soft, BLACK, 2.3, LONGDASH, true, 2));
  series.push(lineSeries(2, cxo030720Hard, BLACK, 2.3, DASHDOT, true, 2));
  series.push(lineSeries(2, cxo030720Fe, BLACK, 1.8, DOT, false, 2));
  series.push(lineSeries(2, cxo030720Bump, BLACK, 1.8, DOT, false, 2));
  series.push(lineSeries(2, cxo030828Soft, RED, 2.3, LONGDASH, true, 2.01));
  series.push(lineSeries(2, cxo030828Hard, RED, 2.2, [2, 1.6], true, 2.01));
  series.push(lineSeries(2, cxo030828Fe, RED, 1.8, DOT, false, 2.01));
  series.push(lineSeries(2, cxo030828Bump, RED, 1.8, DOT, false, 2.01));
  series.push(lineSeries(2, cxo030720Model, BLACK, 2.8, "solid", true, 3));
  series.push(specCrossSeries(2, "CXO030720", cxo030720Data, BLACK, 2.4, 4));
  series.push(lineSeries(2, cxo030828Model, RED, 2.8, "solid", true, 3.01));
  series.push(specCrossSeries(2, "CXO030828", cxo030828Data, RED, 2.4, 4.01));

  // Chandra residuals
  series.push(lineSeries(3, [[E_MIN, 0], [E_MAX, 0]], INK, 1.2, [5, 4], false, 6));
  series.push(chiCrossSeries(3, cxo030720Chi, BLACK, 2.4, 4));
  series.push(chiCrossSeries(3, cxo030828Chi, RED, 2.4, 4.01));

  // frames, ticks and tick labels
  series.push(frameSeries(0, [...xTicks(), ...logYTicks(XMM_Y_MAJOR, XMM_Y[1])], [1, 0.01]));
  series.push(frameSeries(1, [
    ...xTicks(),
    ...XMM_CHI_MAJOR.map((v) => ({ ax: "y" as const, v, len: 7 })),
    ...XMM_CHI_MINOR.map((v) => ({ ax: "y" as const, v, len: 4 })),
  ], [1, 0]));
  series.push(frameSeries(2, [...xTicks(), ...logYTicks(CXO_Y_MAJOR, CXO_Y[1])], [1, 0.01]));
  series.push(frameSeries(3, [
    ...xTicks(),
    ...CXO_CHI_MAJOR.map((v) => ({ ax: "y" as const, v, len: 7 })),
    ...CXO_CHI_MINOR.map((v) => ({ ax: "y" as const, v, len: 4 })),
  ], [1, 0]));

  series.push(labelSeries(0, XMM_Y_LABEL_VALUES.map((v, i) => ({ ax: "y" as const, v, text: XMM_Y_LABELS[i], bold: false })), [1, 0.01]));
  series.push(labelSeries(1, [
    ...xLabels(false),
    ...XMM_CHI_MAJOR.map((v, i) => ({ ax: "y" as const, v, text: XMM_CHI_LABELS[i], bold: false })),
  ], [1, 0]));
  series.push(labelSeries(2, [
    ...CXO_Y_LABEL_VALUES.map((v, i) => ({ ax: "y" as const, v, text: CXO_Y_LABELS[i], bold: true })),
    { ax: "y" as const, v: 0.001, text: "10", sup: "\u22123", bold: false },
  ], [1, 0.01]));
  series.push(labelSeries(3, [
    ...xLabels(true),
    ...CXO_CHI_MAJOR.map((v, i) => ({ ax: "y" as const, v, text: CXO_CHI_LABELS[i], bold: true })),
  ], [1, 0]));

  const graphic = [
    text(67, 15, "XMM\u2212Newton Spectra during the X\u2212ray Minimum", 16.5, { align: "left" }),
    text(67, 487, "Chandra Spectra during the X\u2212ray Minimum", 16.5, { align: "left" }),
    text(23, 158, "normalized counts/sec/keV", 17, { rotation: Math.PI / 2 }),
    text(23, 631, "normalized counts/sec/keV", 17, { rotation: Math.PI / 2 }),
    text(21, 352, "\u03c7", 18, { rotation: Math.PI / 2 }),
    text(21, 825, "\u03c7", 18, { rotation: Math.PI / 2 }),
    text(361, 453, "channel energy (keV)", 17),
    text(361, 924, "channel energy (keV)", 17),
    ...legendGraphics(94, 48, 86, XMM_SETS.map((s) => ({ name: s.name, color: s.color })), [66, 82.5, 99, 115.5]),
    ...legendGraphics(94, 522, 51, [{ name: "CXO030720", color: BLACK }, { name: "CXO030828", color: RED }], [540, 557]),
  ];

  return {
    animation: false,
    backgroundColor: "#ffffff",
    grid: grids,
    xAxis,
    yAxis,
    series,
    graphic,
  };
}

export default function App() {
  const ref = useRef<HTMLDivElement>(null);
  useEffect(() => {
    if (!ref.current) return;
    const chart = echarts.init(ref.current, undefined, { renderer: "svg" });
    chart.setOption(buildOption() as any);
    return () => chart.dispose();
  }, []);
  return (
    <div
      ref={ref}
      style={{ position: "absolute", left: 0, top: 0, width: 654, height: 937, background: "#fff" }}
    />
  );
}
